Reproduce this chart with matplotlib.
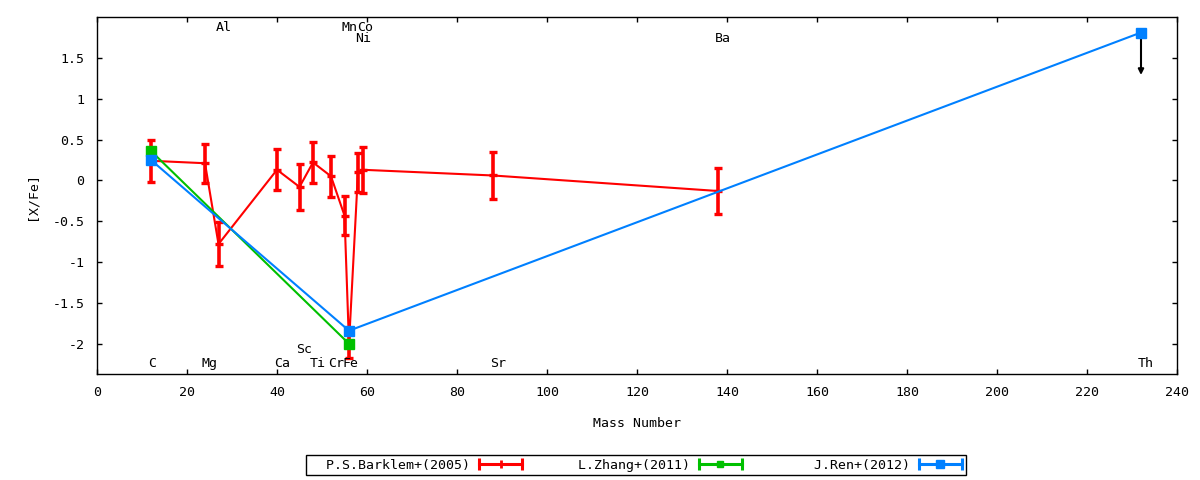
import matplotlib
matplotlib.use("Agg")
import matplotlib.pyplot as plt
import matplotlib.transforms as mtransforms
from matplotlib.lines import Line2D
from matplotlib.legend_handler import HandlerLine2D

plt.rcParams['font.family'] = ['DejaVu Sans Mono']
plt.rcParams['font.size'] = 9.5

# === Data ===

# P.S.Barklem+(2005)
barklem_elem = ["C", "Mg", "Al", "Ca", "Sc", "Ti", "Cr", "Mn", "Fe", "Ni", "Co", "Sr", "Ba"]
barklem_mass = [12, 24, 27, 40, 45, 48, 52, 55, 56, 58, 59, 88, 138]
barklem_val = [0.24, 0.21, -0.78, 0.13, -0.08, 0.22, 0.05, -0.43, -2.00, 0.10, 0.13, 0.06, -0.13]
barklem_err = [0.26, 0.24, 0.27, 0.25, 0.28, 0.25, 0.25, 0.24, 0.18, 0.24, 0.28, 0.29, 0.28]

# L.Zhang+(2011)
zhang_mass = [12, 56]
zhang_val = [0.36, -2.00]

# J.Ren+(2012)
ren_mass = [12, 56, 232]
ren_val = [0.25, -1.84, 1.81]
ren_upper_limit_len = 0.52   # Th is an upper limit

# element labels
label_names = ["C", "Mg", "Al", "Ca", "Sc", "Ti", "Cr", "Mn", "Fe", "Ni", "Co", "Sr", "Ba", "Th"]
label_x = [12, 24, 27, 40, 45, 48, 52, 55, 55.3, 58, 58.5, 88, 138, 232]
label_y = [-2.24, -2.24, 1.87, -2.24, -2.07, -2.24, -2.24, 1.87, -2.24, 1.74, 1.87, -2.24, 1.74, -2.24]

legend_labels = ["P.S.Barklem+(2005)", "L.Zhang+(2011)", "J.Ren+(2012)"]

RED = "#ff0000"
GREEN = "#00c000"
BLUE = "#0080ff"

# === Plot ===

fig = plt.figure(figsize=(12, 4.8), dpi=100)
ax = fig.add_axes([97 / 1200, 106 / 480, 1080 / 1200, 357 / 480])

ax.errorbar(barklem_mass, barklem_val, yerr=barklem_err,
            color=RED, lw=1.5, elinewidth=2.6, capsize=3, capthick=2.4,
            marker='_', ms=6, mew=2.4, zorder=2)

ax.plot(zhang_mass, zhang_val, color=GREEN, lw=1.5, marker='s', ms=7, zorder=3)

ax.plot(ren_mass, ren_val, color=BLUE, lw=1.5, marker='s', ms=7, zorder=4)

# upper limit arrow on Th
ax.annotate("", xy=(ren_mass[-1], ren_val[-1] - ren_upper_limit_len),
            xytext=(ren_mass[-1], ren_val[-1]),
            arrowprops=dict(arrowstyle='-|>', color='black', lw=1.5,
                            mutation_scale=8, shrinkA=0, shrinkB=0),
            zorder=3)

label_tr = mtransforms.offset_copy(ax.transData, fig=fig, x=-3, y=0, units='dots')
for name, lx, ly in zip(label_names, label_x, label_y):
    ax.text(lx, ly, name, transform=label_tr, ha='left', va='center', zorder=5)

ax.set_xlim(0, 240)
ax.set_ylim(-2.37, 2.0)
ax.set_xticks(range(0, 241, 20))
ax.set_yticks([-2, -1.5, -1, -0.5, 0, 0.5, 1, 1.5])
ax.set_yticklabels(["-2", "-1.5", "-1", "-0.5", "0", "0.5", "1", "1.5"])
ax.tick_params(direction='in', top=True, right=True, length=3.5, width=1, pad=9)
for s in ax.spines.values():
    s.set_linewidth(1)
    s.set_color('black')

ax.set_xlabel("Mass Number", va='center')
ax.xaxis.set_label_coords(0.5, -0.14)
ax.set_ylabel("[X/Fe]", va='center')
ax.yaxis.set_label_coords(-0.060, 0.5)

# === Legend (gnuplot-like error bar samples) ===

handles = []
hmap = {}
for col, mk, msz in [(RED, '|', 6), (GREEN, 's', 5), (BLUE, 's', 6)]:
    caps = Line2D([], [], color=col, lw=2.2, marker='|', ms=8, mew=2.2)
    mid = Line2D([], [], color=col, ls='none', marker=mk, ms=msz, mew=2 if mk == '|' else 1)
    hmap[caps] = HandlerLine2D(numpoints=2, marker_pad=0)
    handles.append((caps, mid))

padded = [lab.rjust(20) for lab in legend_labels]
leg = fig.legend(handles, padded, handler_map=hmap, loc='center',
                 bbox_to_anchor=(636 / 1200, 1 - 465 / 480), ncol=3,
                 frameon=True, fancybox=False, edgecolor='black', framealpha=1,
                 borderpad=0.3, handlelength=3.26, handletextpad=0.68,
                 columnspacing=0.6, markerfirst=False)
leg.get_frame().set_linewidth(1)

fig.savefig("out.png", dpi=100)
